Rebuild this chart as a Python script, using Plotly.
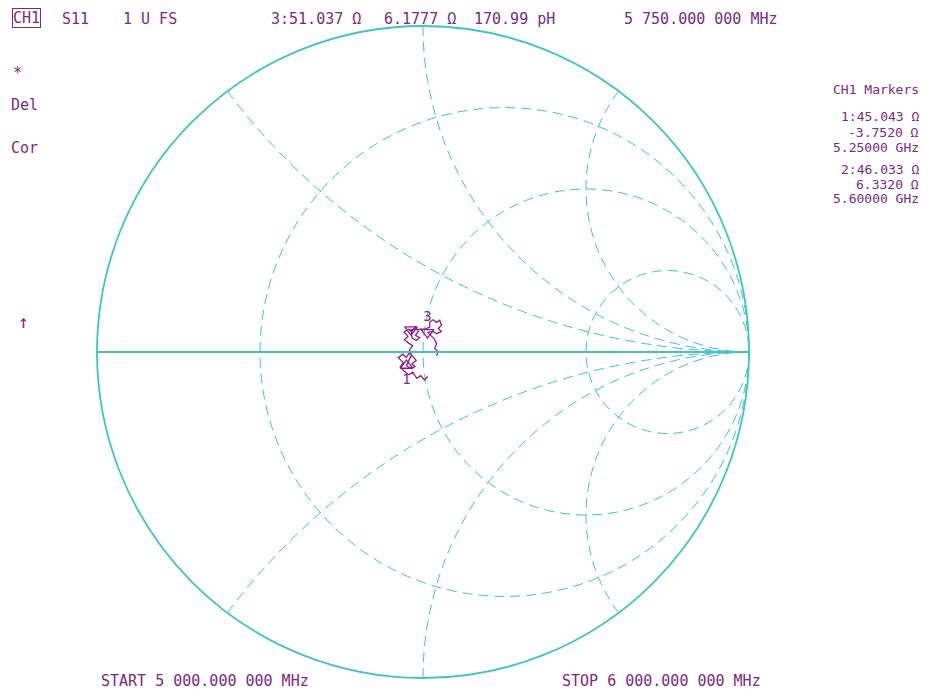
import plotly.graph_objects as go

# ---------------- data ----------------
Z0 = 50.0  # reference impedance (ohm)

# S11 trace, 5.000 -> 6.000 GHz, as series resistance / reactance in ohm
trace_r_ohm = [50.9, 49.7, 48.8, 47.5, 46.6, 45.4, 44.2, 43.3, 44.2, 42.9,
               44.2, 45.1, 46.0, 46.9, 47.9, 46.6, 47.5, 46.0, 45.043,
               45.7, 46.6, 46.0, 46.9, 45.7, 44.5, 45.4, 44.2, 45.4, 46.3,
               47.2, 48.2, 47.5, 48.8, 47.9, 46.6, 46.033,
               48.5, 50.3, 51.5, 51.2, 52.1, 53.4, 54.3, 55.2, 54.3, 55.5,
               54.0, 52.8, 51.037,
               53.4, 54.3, 53.7, 54.9, 54.3]
trace_x_ohm = [-7.7, -8.6, -7.1, -7.7, -5.8, -6.4, -5.2, -4.0, -2.8, -1.5,
               -0.6, -1.5, -0.3, -1.2, -2.5, -3.4, -4.3, -4.6, -3.752,
               -2.5, -0.9, 0.6, 1.8, 2.5, 3.4, 4.3, 5.5, 6.4, 5.8,
               7.4, 6.1, 4.9, 4.3, 3.4, 4.0, 6.332,
               6.8, 7.2, 7.9, 9.5, 10.4, 9.8, 10.7, 9.2, 7.9, 7.0,
               6.1, 6.7, 6.1777,
               4.3, 2.8, 1.2, 0.0, -1.2]

marker_labels = ["1", "2", "3"]
marker_freq_ghz = [5.25, 5.60, 5.75]
marker_r_ohm = [45.043, 46.033, 51.037]
marker_x_ohm = [-3.7520, 6.3320, 6.1777]

grid_r = [1 / 3, 1, 3]                  # constant-resistance circles (normalized)
grid_x = [-2, -1, -0.5, 0.5, 1, 2]      # constant-reactance arcs (normalized)

header_texts = ["S11", "1 U FS", "3:51.037 Ω", "6.1777 Ω", "170.99 pH", "5 750.000 000 MHz"]
side_texts = ["*", "Del", "Cor", "↑"]
marker_panel = ["CH1 Markers", "1:45.043 Ω", "-3.7520 Ω", "5.25000 GHz",
                "2:46.033 Ω", "6.3320 Ω", "5.60000 GHz"]
start_text = "START 5 000.000 000 MHz"
stop_text = "STOP 6 000.000 000 MHz"

# ---------------- style ----------------
OFF = 8                 # page body margin
W, H = 930 - 2 * OFF, 700 - 2 * OFF
CYAN = "#3ec5c5"
PURPLE = "#8b1f8b"
TXT = "#7d2a7d"
FONT = "DejaVu Sans Mono"
FS = 15

fig = go.Figure()

fig.add_trace(go.Scattersmith(
    real=[r / Z0 for r in trace_r_ohm],
    imag=[x / Z0 for x in trace_x_ohm],
    mode="lines",
    line=dict(color=PURPLE, width=1.3),
    showlegend=False,
    hoverinfo="skip",
))

symbols = ["triangle-up-open", "triangle-down-open", "triangle-down-open"]
positions = ["bottom center", "top center", "top center"]
texts = ["1", "", "3"]
for i in range(3):
    fig.add_trace(go.Scattersmith(
        real=[marker_r_ohm[i] / Z0],
        imag=[marker_x_ohm[i] / Z0],
        mode="markers+text",
        marker=dict(symbol=symbols[i], size=11, color=PURPLE, line=dict(width=1.3, color=PURPLE)),
        text=[texts[i]],
        textposition=positions[i],
        textfont=dict(family=FONT, size=14, color=PURPLE),
        showlegend=False,
        hoverinfo="skip",
    ))


def px2x(px):
    return (px - OFF) / W


def py2y(py):
    return 1 - (py - OFF) / H


fig.update_layout(
    width=W, height=H,
    margin=dict(l=0, r=0, t=0, b=0),
    paper_bgcolor="white",
    plot_bgcolor="white",
    showlegend=False,
    smith=dict(
        domain=dict(x=[px2x(97), px2x(749)], y=[py2y(678), py2y(26)]),
        bgcolor="white",
        realaxis=dict(
            tickvals=grid_r, showticklabels=False, ticks="",
            showgrid=True, gridcolor=CYAN, griddash="10px,6px", gridwidth=1.1,
            showline=True, linecolor=CYAN, linewidth=1.8,
        ),
        imaginaryaxis=dict(
            tickvals=grid_x, showticklabels=False, ticks="",
            showgrid=True, gridcolor=CYAN, griddash="10px,6px", gridwidth=1.1,
            showline=True, linecolor=CYAN, linewidth=1.8,
        ),
    ),
)

ann = []


def add_text(t, px, py, anchor="left", box=False, size=FS, yanchor="middle"):
    d = dict(text=t, x=px2x(px), y=py2y(py), xref="paper", yref="paper",
             xanchor=anchor, yanchor=yanchor, showarrow=False,
             font=dict(family=FONT, size=size, color=TXT))
    if box:
        d.update(bordercolor=TXT, borderwidth=1, borderpad=0)
    ann.append(d)


# header row, pinned to the top edge of the figure
add_text("CH1", 12, OFF, box=True, yanchor="top")
header_x = [60, 121, 269, 382, 472, 622]
for t, px in zip(header_texts, header_x):
    add_text(t, px, OFF, yanchor="top")

side_pos = [(11, 73), (9, 105), (9, 148), (16, 321)]
side_size = [15, 15, 15, 18]
for t, (px, py), sz in zip(side_texts, side_pos, side_size):
    add_text(t, px, py, size=sz)

panel_y = [89, 117, 132, 147, 169, 184, 199]
for t, py in zip(marker_panel, panel_y):
    add_text(t, 921, py, anchor="right", size=13)

# footer row, pinned to the bottom edge
add_text(start_text, 99, 700 - OFF, yanchor="bottom")
add_text(stop_text, 560, 700 - OFF, yanchor="bottom")

fig.update_layout(annotations=ann)

fig.write_html("out.html")
